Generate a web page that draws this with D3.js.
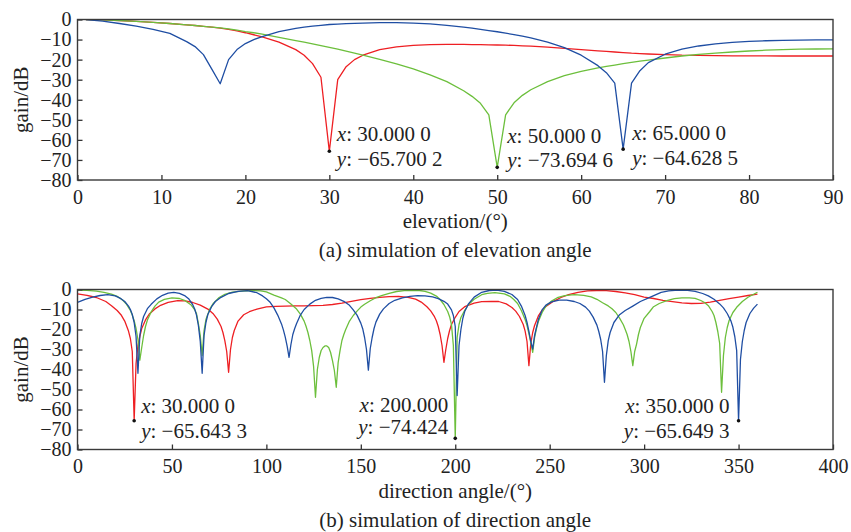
<!DOCTYPE html>
<html>
<head>
<meta charset="utf-8">
<script src="https://cdn.jsdelivr.net/npm/d3@7"></script>
<style>
  html, body { margin: 0; padding: 0; background: #fff; }
  svg { display: block; }
</style>
</head>
<body>
<svg id="chart" width="851" height="532"></svg>
<script>
// ---- (a) gain versus elevation angle ----
const elevAngles = [1,3,5,7,9,11,13,14,15,16,17,18,19,20,21,22,24,26,27,28,29,30,31,32,33,34,36,38,40,42,44,46,47,48,49,50,51,52,53,54,56,58,60,62,63,64,65,66,67,68,70,72,74,76,78,80,82,84,86,88,90];
const elevRed = [0,-0.2,-0.5,-0.9,-1.4,-2.0,-2.7,-3.0,-3.4,-3.8,-4.3,-4.9,-5.7,-6.6,-7.6,-8.7,-11.3,-15.0,-17.8,-22.0,-28.8,-65.7002,-30.0,-23.5,-20.0,-17.8,-15.0,-13.6,-12.9,-12.5,-12.4,-12.4,-12.5,-12.5,-12.6,-12.7,-12.8,-12.9,-13.1,-13.3,-13.8,-14.4,-15.0,-15.6,-15.9,-16.2,-16.5,-16.8,-17.0,-17.2,-17.5,-17.8,-17.9,-18.0,-18.1,-18.1,-18.1,-18.2,-18.2,-18.2,-18.2];
const elevGreen = [0,-0.2,-0.5,-0.9,-1.4,-2.0,-2.7,-3.0,-3.4,-3.8,-4.2,-4.7,-5.3,-6.0,-6.6,-7.3,-8.9,-10.5,-11.3,-12.1,-13.0,-13.9,-14.8,-15.8,-16.8,-17.8,-19.9,-22.1,-24.6,-27.6,-31.0,-35.5,-38.3,-41.8,-47.5,-73.6946,-47.5,-41.5,-37.8,-35.0,-31.0,-28.0,-25.9,-24.1,-23.4,-22.7,-22.0,-21.4,-20.8,-20.2,-19.2,-18.2,-17.4,-16.8,-16.2,-15.7,-15.3,-15.0,-14.8,-14.7,-14.6];
const elevBlue = [0,-0.8,-2.0,-3.3,-4.9,-6.9,-11.0,-13.5,-17.5,-24.7,-32.0,-20.0,-15.0,-12.0,-10.0,-8.5,-6.0,-4.4,-3.8,-3.3,-2.9,-2.5,-2.3,-2.1,-1.9,-1.8,-1.6,-1.6,-1.8,-2.2,-2.9,-3.8,-4.3,-4.9,-5.5,-6.1,-6.8,-7.5,-8.3,-9.2,-11.3,-14.0,-17.8,-23.0,-26.5,-31.7,-64.6285,-31.7,-25.5,-21.5,-17.3,-14.8,-13.2,-12.1,-11.4,-10.9,-10.6,-10.4,-10.3,-10.2,-10.2];
const elevTicks = [0,10,20,30,40,50,60,70,80,90];
const elevTips = [30, 50, 65];           // angles of the marked nulls
const elevTipDigits = [4, 4, 4];

// ---- (b) gain versus direction angle ----
const dirRedAngles = [0,5,10,15,18,21,23,25,27,28,29,30,31,32,33,34,36,38,41,44,48,53,57,61,65,69,72,74,76,77,78,79,80,81,82,83,85,88,91,95,100,105,110,115,120,125,130,135,140,145,150,155,160,165,170,175,179,182,185,187,189,190,191,192,193,194,195,196,197,198,200,202,205,210,214,219,223,227,230,232,234,236,237,238,239,240,241,242,244,246,248,252,256,260,265,270,275,280,285,290,295,300,305,310,315,320,325,330,335,340,345,350,355,360];
const dirRed = [-2.2,-2.9,-4.0,-6.0,-8.1,-10.5,-12.6,-15.8,-20.8,-24.5,-31.0,-65.6433,-37.0,-28.0,-23.5,-19.5,-15.2,-12.3,-9.7,-7.9,-6.4,-5.6,-5.7,-6.5,-7.8,-9.8,-12.3,-14.8,-18.5,-21.5,-25.6,-31.0,-41.4,-30.0,-24.0,-20.5,-15.8,-12.6,-11.1,-9.8,-8.7,-8.4,-8.3,-8.2,-8.2,-8.1,-7.9,-7.5,-6.8,-5.9,-5.1,-4.4,-3.9,-3.6,-3.5,-3.9,-4.8,-6.3,-8.6,-10.7,-13.6,-15.6,-18.5,-22.5,-28.0,-36.4,-30.0,-24.5,-20.5,-17.5,-13.9,-11.0,-8.6,-6.8,-6.1,-5.9,-6.0,-7.2,-9.0,-10.8,-13.5,-17.5,-20.8,-26.0,-38.1,-27.0,-21.5,-18.0,-13.2,-10.3,-8.5,-5.9,-4.0,-2.6,-1.4,-0.7,-0.5,-0.6,-1.0,-1.7,-2.6,-3.8,-4.5,-5.4,-6.1,-6.7,-7.0,-6.9,-6.3,-5.4,-4.6,-3.8,-3.0,-2.3];

const dirGreenAngles = [0,5,10,14,18,21,24,26,28,29,30,31,32,33,34,35,36,37,39,41,43,46,50,54,57,60,62,63,64,65,66,67,68,70,72,75,78,82,87,92,97,100,104,108,110,113,116,118,120,121,122,123,124,125,126,127,128,129,130,131,132,133,134,135,136,137,138,139,140,141,142,144,146,148,150,152,155,158,161,165,169,173,177,181,184,187,190,192,194,196,197,198,199,200,201,202,203,205,207,210,214,217,221,226,229,231,233,235,237,238,239,240,241,242,243,244,246,248,251,254,258,263,268,272,275,278,281,283,285,287,289,290,291,292,293,294,295,296,297,298,300,303,305,308,312,316,320,324,327,330,332,334,336,337,338,339,340,341,342,343,344,345,347,349,352,355,358,360];
const dirGreen = [-0.3,-0.4,-0.8,-1.4,-2.3,-3.4,-5.4,-7.4,-10.5,-12.8,-15.6,-19.5,-25.0,-35.3,-29.0,-23.0,-18.5,-15.3,-11.2,-8.3,-6.3,-4.9,-4.2,-4.5,-5.6,-7.6,-10.0,-12.0,-17.0,-23.0,-33.0,-20.5,-15.0,-9.8,-6.8,-4.0,-2.4,-1.3,-0.8,-0.5,-0.7,-1.2,-2.8,-4.2,-5.0,-7.3,-9.8,-12.3,-15.8,-18.4,-21.5,-25.5,-30.6,-38.5,-53.9,-40.0,-34.0,-30.5,-29.0,-28.2,-28.2,-29.0,-31.5,-35.6,-40.5,-48.9,-36.5,-30.6,-25.5,-22.5,-20.0,-15.8,-13.0,-10.8,-8.8,-7.4,-5.6,-4.1,-3.1,-1.9,-1.0,-0.6,-0.4,-0.5,-0.9,-1.8,-3.3,-5.0,-7.5,-11.0,-13.6,-17.5,-28.0,-74.424,-24.0,-17.5,-14.0,-10.4,-7.5,-4.9,-2.6,-1.9,-1.6,-2.2,-3.4,-5.0,-7.0,-10.5,-15.0,-18.0,-22.0,-26.5,-31.4,-24.0,-19.5,-16.0,-11.5,-8.3,-5.8,-4.1,-3.1,-2.6,-2.9,-3.7,-4.9,-6.6,-8.2,-9.6,-11.5,-14.3,-17.6,-20.0,-22.5,-26.0,-31.0,-38.1,-31.0,-27.3,-22.5,-19.0,-14.4,-11.0,-8.6,-7.0,-5.6,-4.6,-4.2,-4.2,-4.4,-5.5,-6.5,-8.1,-11.0,-13.0,-16.5,-21.0,-27.0,-51.4,-33.0,-24.0,-19.0,-15.5,-11.5,-8.9,-6.0,-3.9,-2.4,-1.4];

const dirBlueAngles = [0,4,8,12,16,20,23,25,27,28,29,30,31,32,33,34,35,37,39,42,45,48,51,54,57,59,61,62,63,64,65,66,67,68,69,71,73,76,80,85,90,95,98,100,102,104,106,108,109,110,111,112,113,114,115,116,118,120,123,126,129,132,135,138,141,144,146,148,150,151,152,153,154,155,156,157,158,160,162,165,168,172,176,180,184,188,191,194,196,198,199,200,201,202,203,204,205,207,210,214,218,222,226,230,233,235,237,238,239,240,241,242,243,244,246,248,251,255,259,263,266,269,271,273,275,276,277,278,279,280,281,282,284,287,290,294,298,303,309,313,318,323,327,331,334,337,340,342,344,346,347,348,349,350,351,352,353,354,356,358,360];
const dirBlue = [-6.4,-4.9,-3.8,-3.0,-2.6,-3.2,-4.6,-6.0,-8.3,-10.0,-12.5,-16.5,-23.5,-41.9,-23.0,-17.0,-13.5,-9.6,-7.4,-4.7,-2.9,-1.8,-1.4,-1.9,-3.2,-4.8,-7.6,-9.6,-12.8,-18.0,-26.0,-41.9,-23.0,-16.5,-12.5,-8.6,-6.0,-3.9,-2.0,-0.9,-0.6,-1.6,-3.2,-4.6,-6.4,-9.2,-12.8,-17.2,-20.2,-23.8,-28.3,-33.9,-27.5,-22.5,-19.5,-17.0,-12.8,-10.0,-7.3,-5.4,-4.4,-3.9,-4.0,-4.7,-5.9,-7.9,-10.2,-12.8,-16.8,-19.6,-24.0,-30.0,-40.3,-29.5,-24.0,-19.5,-16.3,-12.3,-9.7,-7.0,-5.4,-4.2,-3.4,-3.1,-3.2,-3.7,-4.6,-5.9,-7.3,-10.2,-13.0,-18.5,-53.0,-28.0,-20.0,-14.5,-11.0,-7.2,-3.8,-1.4,-0.5,-0.3,-0.9,-2.5,-5.0,-8.3,-13.0,-16.5,-21.0,-26.0,-29.8,-23.0,-18.9,-15.0,-10.2,-7.8,-6.2,-5.3,-5.3,-6.0,-7.0,-8.8,-10.8,-13.8,-17.8,-21.0,-25.0,-31.0,-46.4,-33.0,-25.6,-21.5,-16.5,-12.6,-10.5,-8.3,-6.0,-3.9,-1.4,-0.7,-0.3,-0.4,-0.9,-2.0,-3.2,-4.9,-7.2,-9.2,-12.0,-15.8,-18.9,-23.5,-30.6,-65.6493,-35.0,-26.0,-20.5,-16.5,-12.0,-9.3,-7.3];

const dirTicks = [0,50,100,150,200,250,300,350,400];
const gainTicks = [0,-10,-20,-30,-40,-50,-60,-70,-80];
const dirTips = [30, 200, 350];
const dirTipDigits = [4, 3, 4];

const colors = { red: "#ee1f23", green: "#6cbf3c", blue: "#1f4ea3" };
const FONT = "'Liberation Serif', 'Times New Roman', serif";
const FS = 21;       // titles, captions, data tips
const FS_TICK = 20;  // tick labels

const svg = d3.select("#chart");

// Value format used in the data tips: fixed decimals, decimals grouped in threes.
function tipNumber(v, digits) {
  const s = Math.abs(v).toFixed(digits);
  const [ip, fp] = s.split(".");
  const groups = fp ? fp.match(/.{1,3}/g).join(" ") : "";
  return (v < 0 ? "\u2212" : "") + ip + (fp ? "." + groups : "");
}

function panel(opts) {
  const { x, y, id, series, ticksX, tips, xLabel, caption } = opts;
  const g = svg.append("g");
  const [x0, x1] = x.range();
  const [y0, y1] = y.range(); // y0 bottom, y1 top

  g.append("clipPath").attr("id", id)
    .append("rect").attr("x", x0).attr("y", y1).attr("width", x1 - x0).attr("height", y0 - y1);

  // curves
  const line = d3.line().x(d => x(d[0])).y(d => y(d[1])).curve(d3.curveLinear);
  const plot = g.append("g").attr("clip-path", `url(#${id})`);
  series.forEach(s => {
    plot.append("path")
      .datum(d3.zip(s.angles, s.values))
      .attr("fill", "none")
      .attr("stroke", s.color)
      .attr("stroke-width", 1.3)
      .attr("stroke-linejoin", "round")
      .attr("d", line);
  });

  // axes with inward ticks
  const axX = g.append("g").attr("transform", `translate(0,${y0})`)
    .call(d3.axisBottom(x).tickValues(ticksX).tickSize(-5).tickPadding(9.5).tickFormat(d3.format("d")));
  const axY = g.append("g").attr("transform", `translate(${x0},0)`)
    .call(d3.axisLeft(y).tickValues(gainTicks).tickSize(-5).tickPadding(6).tickFormat(d3.format("d")));
  [axX, axY].forEach(a => {
    a.select(".domain").remove();
    a.selectAll("line").attr("stroke", "#333").attr("stroke-width", 1.3);
    a.selectAll("text").attr("font-family", FONT).attr("font-size", FS_TICK).attr("fill", "#222");
  });

  // frame
  g.append("rect").attr("x", x0).attr("y", y1).attr("width", x1 - x0).attr("height", y0 - y1)
    .attr("fill", "none").attr("stroke", "#3a3a3a").attr("stroke-width", 1.4);

  // data tips
  tips.forEach(t => {
    const px = x(t.x), py = y(t.y);
    g.append("circle").attr("cx", px).attr("cy", py).attr("r", 1.8).attr("fill", "#111");
    const txt = g.append("g").attr("font-family", FONT).attr("font-size", FS).attr("fill", "#222")
      .attr("text-anchor", t.anchor);
    const tx = px + t.dx;
    [["x", tipNumber(t.x, t.digits), t.dy1], ["y", tipNumber(t.y, t.digits), t.dy2]].forEach(([k, v, dy]) => {
      const tt = txt.append("text").attr("x", tx).attr("y", py + dy);
      tt.append("tspan").attr("font-style", "italic").text(k);
      tt.append("tspan").text(": " + v);
    });
  });

  // titles
  const cx = (x0 + x1) / 2;
  g.append("text").attr("x", cx).attr("y", y0 + 48).attr("text-anchor", "middle")
    .attr("font-family", FONT).attr("font-size", FS).attr("fill", "#222").text(xLabel);
  g.append("text").attr("x", cx).attr("y", y0 + 77).attr("text-anchor", "middle")
    .attr("font-family", FONT).attr("font-size", FS).attr("fill", "#222").text(caption);
  g.append("text")
    .attr("transform", `translate(28,${(y0 + y1) / 2}) rotate(-90)`)
    .attr("text-anchor", "middle")
    .attr("font-family", FONT).attr("font-size", FS).attr("fill", "#222").text("gain/dB");
}

function valueAt(angles, values, a) { return values[angles.indexOf(a)]; }

// (a)
const xElev = d3.scaleLinear().domain([0, 90]).range([77.5, 833]);
const yElev = d3.scaleLinear().domain([-80, 0]).range([180, 19.5]);
const elevSeries = [
  { angles: elevAngles, values: elevRed, color: colors.red },
  { angles: elevAngles, values: elevGreen, color: colors.green },
  { angles: elevAngles, values: elevBlue, color: colors.blue }
];
const elevPlace = [
  { anchor: "start", dx: 7.5, dy1: -10, dy2: 15 },
  { anchor: "start", dx: 10, dy1: -24, dy2: -0.6 },
  { anchor: "start", dx: 9, dy1: -9.5, dy2: 15.5 }
];
panel({
  x: xElev, y: yElev, id: "clipA", series: elevSeries, ticksX: elevTicks,
  tips: elevTips.map((a, i) => Object.assign({
    x: a, y: valueAt(elevAngles, elevSeries[i].values, a), digits: elevTipDigits[i]
  }, elevPlace[i])),
  xLabel: "elevation/(\u00B0)", caption: "(a) simulation of elevation angle"
});

// (b)
const xDir = d3.scaleLinear().domain([0, 400]).range([77.5, 833]);
const yDir = d3.scaleLinear().domain([-80, 0]).range([449.5, 289.5]);
const dirSeries = [
  { angles: dirRedAngles, values: dirRed, color: colors.red },
  { angles: dirGreenAngles, values: dirGreen, color: colors.green },
  { angles: dirBlueAngles, values: dirBlue, color: colors.blue }
];
const dirPlace = [
  { anchor: "start", dx: 7, dy1: -8, dy2: 17 },
  { anchor: "end", dx: -7, dy1: -26, dy2: -4 },
  { anchor: "end", dx: -9, dy1: -8, dy2: 17 }
];
panel({
  x: xDir, y: yDir, id: "clipB", series: dirSeries, ticksX: dirTicks,
  tips: dirTips.map((a, i) => Object.assign({
    x: a, y: valueAt(dirSeries[i].angles, dirSeries[i].values, a), digits: dirTipDigits[i]
  }, dirPlace[i])),
  xLabel: "direction angle/(\u00B0)", caption: "(b) simulation of direction angle"
});
</script>
</body>
</html>
